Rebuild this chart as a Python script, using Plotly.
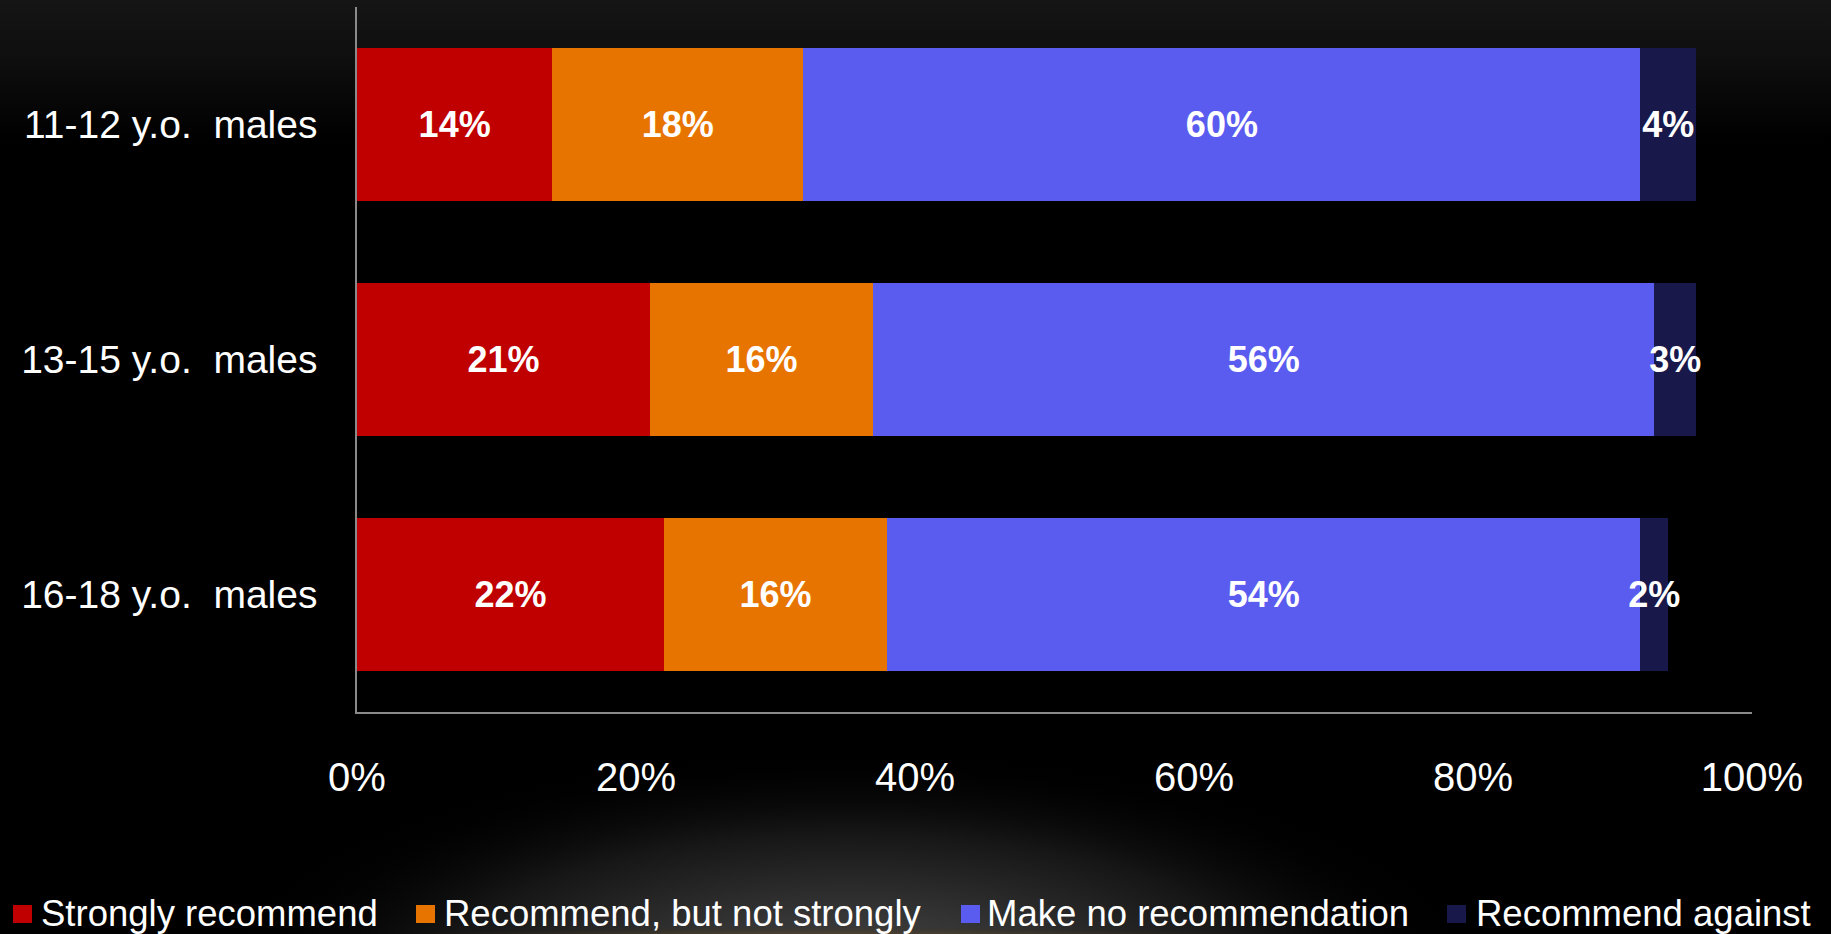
import base64
import plotly.graph_objects as go

# ---- data -------------------------------------------------------------
groups = ["11-12 y.o.\u00a0 males", "13-15 y.o.\u00a0 males", "16-18 y.o.\u00a0 males"]
series_names = [
    "Strongly recommend",
    "Recommend, but not strongly",
    "Make no recommendation",
    "Recommend against",
]
strongly = [14, 21, 22]
not_strongly = [18, 16, 16]
no_recommendation = [60, 56, 54]
against = [4, 3, 2]
x_ticks = [0, 20, 40, 60, 80, 100]
x_tick_labels = ["0%", "20%", "40%", "60%", "80%", "100%"]

series_values = [strongly, not_strongly, no_recommendation, against]
colors = ["#C00000", "#E87400", "#5A5CF0", "#18184A"]

# ---- canvas geometry (pixels) ----------------------------------------
W, H = 1831, 934
L, R, T, B = 357, 79, 7, 222
PW, PH = W - L - R, H - T - B
FONT = "Liberation Sans, Arial, Helvetica, sans-serif"


def px_x(px):
    return (px - L) / PW


def px_y(py):
    return (H - B - py) / PH


# ---- backdrop: dark top fade plus warm glow along the bottom ---------
svg = f"""<svg xmlns='http://www.w3.org/2000/svg' width='{W}' height='{H}' viewBox='0 0 {W} {H}' preserveAspectRatio='none'>
<defs>
<linearGradient id='top' x1='0' y1='0' x2='0' y2='1'>
<stop offset='0' stop-color='#151515'/>
<stop offset='0.06' stop-color='#0f0f0f'/>
<stop offset='0.15' stop-color='#000000'/>
<stop offset='1' stop-color='#000000'/>
</linearGradient>
<radialGradient id='glow'>
<stop offset='0' stop-color='#4a4a4a'/>
<stop offset='0.3' stop-color='#353535'/>
<stop offset='0.65' stop-color='#161616'/>
<stop offset='1' stop-color='#000000' stop-opacity='0'/>
</radialGradient>
<radialGradient id='gold'>
<stop offset='0' stop-color='#b48a40' stop-opacity='0.95'/>
<stop offset='0.5' stop-color='#7a5c2c' stop-opacity='0.6'/>
<stop offset='1' stop-color='#3a2a10' stop-opacity='0'/>
</radialGradient>
</defs>
<rect x='0' y='0' width='{W}' height='{H}' fill='url(#top)'/>
<ellipse cx='850' cy='985' rx='640' ry='235' fill='url(#glow)'/>
<ellipse cx='830' cy='950' rx='580' ry='24' fill='url(#gold)'/>
</svg>"""
bg_src = "data:image/svg+xml;base64," + base64.b64encode(svg.encode()).decode()

fig = go.Figure()

for name, vals, col in zip(series_names, series_values, colors):
    fig.add_trace(
        go.Bar(
            name=name,
            y=groups,
            x=vals,
            orientation="h",
            marker=dict(color=col, line=dict(width=0)),
            text=[f"{v}%" for v in vals],
            texttemplate="<b>%{text}</b>",
            textposition="inside",
            insidetextanchor="middle",
            constraintext="none",
            textangle=0,
            insidetextfont=dict(family=FONT, size=36, color="white"),
            hovertemplate="%{y}: %{text}<extra>" + name + "</extra>",
            showlegend=False,
        )
    )

# ---- legend drawn as colour swatches and text along the bottom --------
swatch_left = [13, 416, 961, 1447]
text_left = [40, 443, 986, 1475]
sw_top, sw_bot = 905, 923
legend_mid = 913

shapes = []
annotations = []
for name, col, sx, tx in zip(series_names, colors, swatch_left, text_left):
    shapes.append(
        dict(
            type="rect",
            xref="paper",
            yref="paper",
            x0=px_x(sx),
            x1=px_x(sx + 19),
            y0=px_y(sw_bot),
            y1=px_y(sw_top),
            fillcolor=col,
            line=dict(width=0),
            layer="above",
        )
    )
    annotations.append(
        dict(
            text=name,
            xref="paper",
            yref="paper",
            x=px_x(tx),
            y=px_y(legend_mid),
            xanchor="left",
            yanchor="middle",
            showarrow=False,
            borderpad=0,
            font=dict(family=FONT, size=36.5, color="white"),
        )
    )

fig.update_layout(
    width=W,
    height=H,
    margin=dict(l=L, r=R, t=T, b=B, pad=0),
    paper_bgcolor="#000000",
    plot_bgcolor="rgba(0,0,0,0)",
    barmode="stack",
    bargap=0.353,
    font=dict(family=FONT, color="white"),
    showlegend=False,
    shapes=shapes,
    annotations=annotations,
    images=[
        dict(
            source=bg_src,
            xref="paper",
            yref="paper",
            x=px_x(0),
            y=px_y(0),
            sizex=W / PW,
            sizey=H / PH,
            xanchor="left",
            yanchor="top",
            sizing="stretch",
            layer="below",
        )
    ],
    xaxis=dict(
        range=[0, 100],
        tickmode="array",
        tickvals=x_ticks,
        ticktext=x_tick_labels,
        showgrid=False,
        zeroline=False,
        showline=True,
        linecolor="#8a8a8a",
        linewidth=1.5,
        ticks="",
        ticklabelstandoff=29,
        tickfont=dict(family=FONT, size=40, color="white"),
        fixedrange=True,
    ),
    yaxis=dict(
        autorange="reversed",
        showgrid=False,
        zeroline=False,
        showline=True,
        linecolor="#8a8a8a",
        linewidth=1.5,
        ticks="",
        ticklabelstandoff=30,
        tickfont=dict(family=FONT, size=39, color="white"),
        fixedrange=True,
    ),
)

fig.write_html("out.html")
